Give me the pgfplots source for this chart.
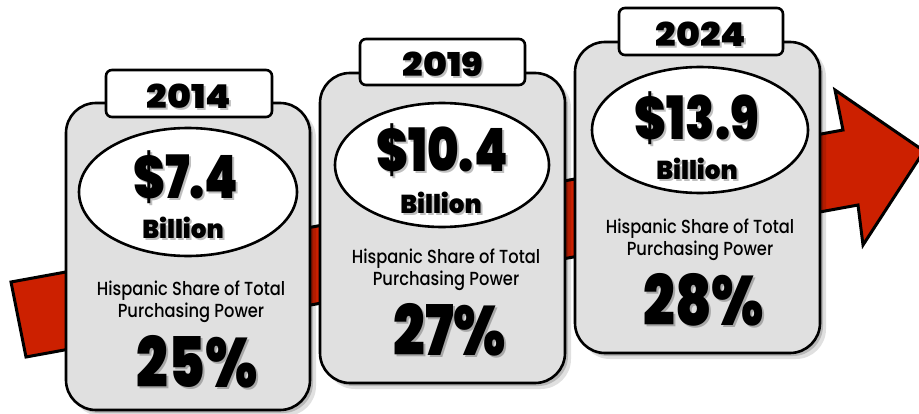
\documentclass[border=0pt]{standalone}
\usepackage{pgfplots}
\pgfplotsset{compat=1.18}
\usepackage{fontspec}
\setmainfont{Poppins}
\newfontfamily\heavyfont{Poppins Black}[FakeStretch=0.8]
\newfontfamily\yearfont{Poppins Black}[FakeStretch=1.1]
\newfontfamily\billfont{Poppins Black}[FakeStretch=0.95]
\newfontfamily\medfont{Poppins Medium}[FakeStretch=0.86]
\definecolor{arrowred}{RGB}{204,32,0}
\definecolor{cardgray}{RGB}{224,224,224}
\pgfplotsset{
  txt/.style={draw=none, mark=none, nodes near coords, point meta=explicit symbolic,
    every node near coord/.append style={anchor=base, inner sep=0pt, text=black, #1}},
  shd/.style={draw=none, mark=none, nodes near coords, point meta=explicit symbolic,
    every node near coord/.append style={anchor=base, inner sep=0pt, text=black, opacity=0.25, xshift=2bp, yshift=-2bp, #1}},
}
\begin{document}
\begin{tikzpicture}
\begin{axis}[
  width=919bp, height=414bp, scale only axis,
  xmin=0, xmax=919, ymin=0, ymax=414, y dir=reverse,
  hide axis, clip=true,
]
% arrow
\addplot[fill=arrowred, draw=black, line width=3bp, line join=miter] coordinates {
 (11,282) (843,130) (835,90) (924,151) (863,245) (858,205) (26,357) } -- cycle;
% card shadows
\addplot[fill=black, draw=none, opacity=0.12, rounded corners=30bp] coordinates {(71,108)(316,108)(316,416)(71,416)} -- cycle;
\addplot[fill=black, draw=none, opacity=0.18, rounded corners=30bp] coordinates {(69,106)(313,106)(313,413)(69,413)} -- cycle;
\addplot[fill=black, draw=none, opacity=0.12, rounded corners=30bp] coordinates {(325,78)(571,78)(571,389)(325,389)} -- cycle;
\addplot[fill=black, draw=none, opacity=0.18, rounded corners=30bp] coordinates {(323,76)(568,76)(568,386)(323,386)} -- cycle;
\addplot[fill=black, draw=none, opacity=0.12, rounded corners=30bp] coordinates {(580,47)(826,47)(826,359)(580,359)} -- cycle;
\addplot[fill=black, draw=none, opacity=0.18, rounded corners=30bp] coordinates {(578,45)(823,45)(823,356)(578,356)} -- cycle;
% cards
\addplot[fill=cardgray, draw=black, line width=2.6bp, rounded corners=30bp] coordinates {(66,103)(310,103)(310,410)(66,410)} -- cycle;
\addplot[fill=cardgray, draw=black, line width=2.6bp, rounded corners=30bp] coordinates {(320,73)(565,73)(565,383)(320,383)} -- cycle;
\addplot[fill=cardgray, draw=black, line width=2.6bp, rounded corners=30bp] coordinates {(575,42)(820,42)(820,353)(575,353)} -- cycle;
% tabs
\addplot[fill=white, draw=black, line width=2.6bp, rounded corners=6bp] coordinates {(106,70)(272,70)(272,117)(106,117)} -- cycle;
\addplot[fill=white, draw=black, line width=2.6bp, rounded corners=6bp] coordinates {(360,39)(525,39)(525,85)(360,85)} -- cycle;
\addplot[fill=white, draw=black, line width=2.6bp, rounded corners=6bp] coordinates {(619,8)(783,8)(783,55)(619,55)} -- cycle;
% ellipses
\draw[fill=white, draw=black, line width=2.6bp] (axis cs:188,192) ellipse [x radius=109bp, y radius=64bp];
\draw[fill=white, draw=black, line width=2.6bp] (axis cs:442,165) ellipse [x radius=107bp, y radius=62bp];
\draw[fill=white, draw=black, line width=2.6bp] (axis cs:700,130) ellipse [x radius=108bp, y radius=63bp];
% years
\addplot[shd={font=\yearfont\fontsize{33}{33}\selectfont}] coordinates {(189,108)[2014] (443,77)[2019] (701,47)[2024]};
\addplot[txt={font=\yearfont\fontsize{33}{33}\selectfont}] coordinates {(189,108)[2014] (443,77)[2019] (701,47)[2024]};
% amounts
\addplot[shd={font=\heavyfont\fontsize{60}{60}\selectfont}] coordinates {(186,198)[\$7.4] (442,171)[\$10.4] (697,139)[\$13.9]};
\addplot[txt={font=\heavyfont\fontsize{60}{60}\selectfont}] coordinates {(186,198)[\$7.4] (442,171)[\$10.4] (697,139)[\$13.9]};
% billion
\addplot[shd={font=\billfont\fontsize{26}{26}\selectfont}] coordinates {(183,238)[Billion] (441,213)[Billion] (697,179)[Billion]};
\addplot[txt={font=\billfont\fontsize{26}{26}\selectfont}] coordinates {(183,238)[Billion] (441,213)[Billion] (697,179)[Billion]};
% share label
\addplot[txt={font=\medfont\fontsize{19}{19}\selectfont}] coordinates {(191,295)[Hispanic Share of Total] (446,263)[Hispanic Share of Total] (700,233)[Hispanic Share of Total]};
\addplot[txt={font=\medfont\fontsize{19}{19}\selectfont}] coordinates {(191,317)[Purchasing Power] (446,285)[Purchasing Power] (700,255)[Purchasing Power]};
% percentages
\addplot[shd={font=\heavyfont\fontsize{70}{70}\selectfont}] coordinates {(197,387)[25\%] (450,355)[27\%] (704,325)[28\%]};
\addplot[txt={font=\heavyfont\fontsize{70}{70}\selectfont}] coordinates {(197,387)[25\%] (450,355)[27\%] (704,325)[28\%]};
\end{axis}
\pgfresetboundingbox
\useasboundingbox (current axis.south west) rectangle (current axis.north east);
\end{tikzpicture}
\end{document}
